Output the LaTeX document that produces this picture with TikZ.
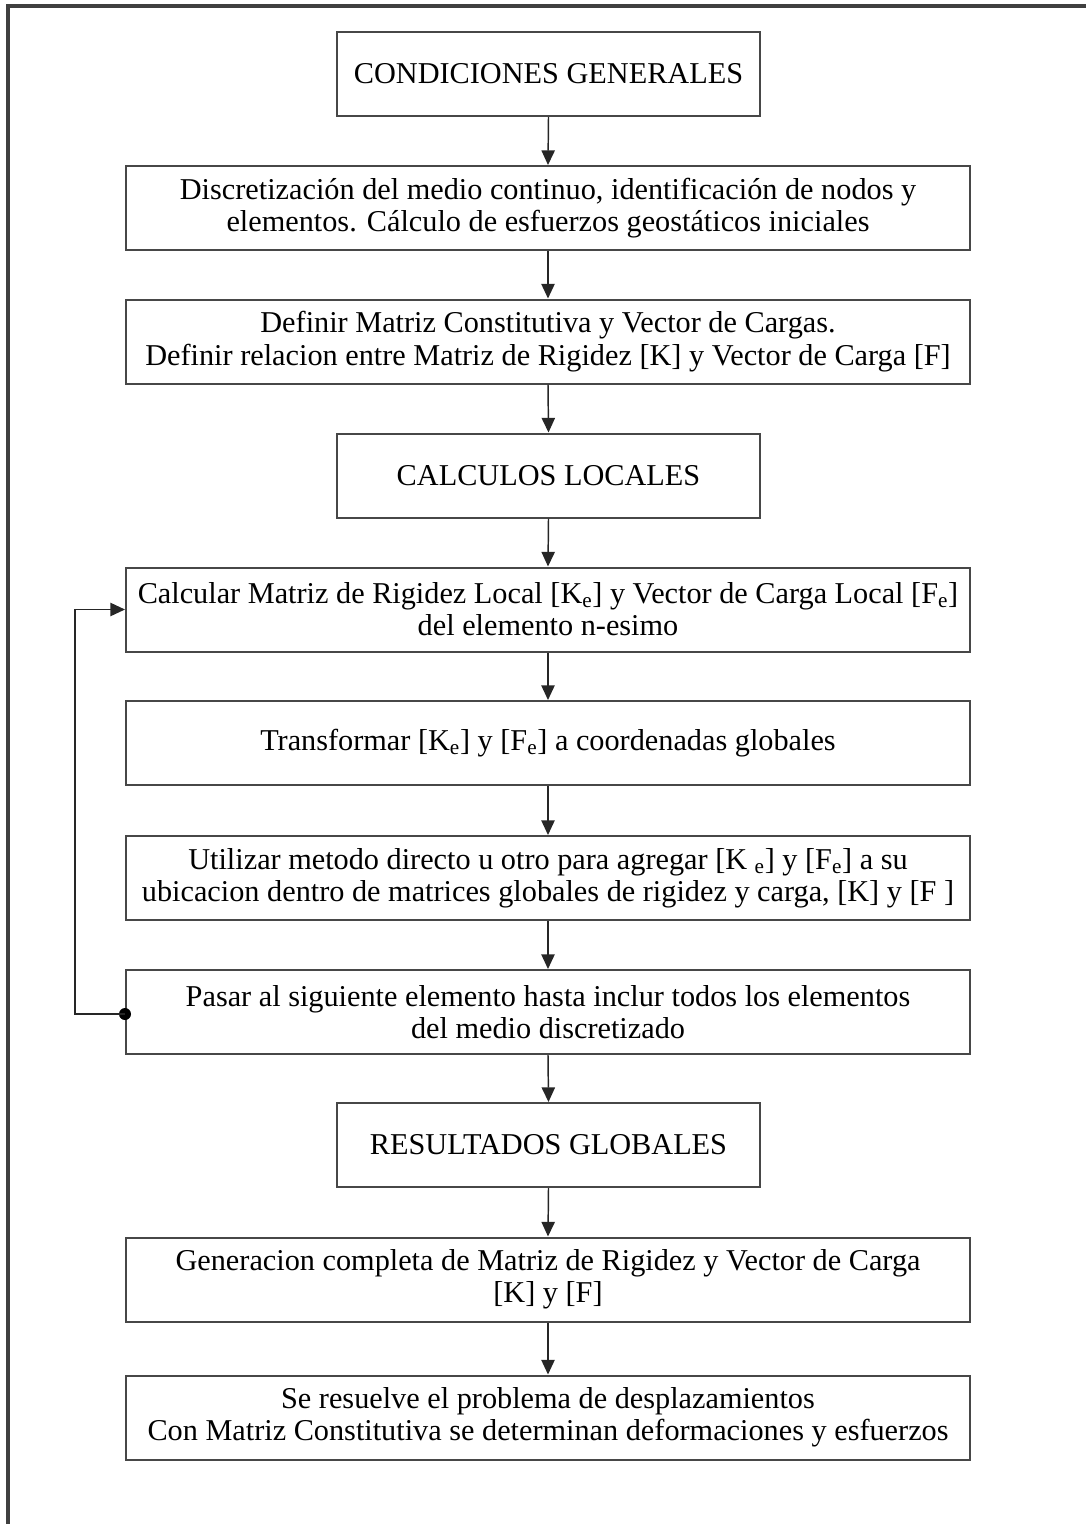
\documentclass[tikz,border=0pt]{standalone}
\usepackage{fontspec}
\setmainfont{Liberation Serif}
\usetikzlibrary{arrows.meta}
\newcommand{\sbe}{\textsubscript{e}}
\begin{document}
\begin{tikzpicture}[x=0.75pt,y=-0.75pt,
  flowbox/.style={draw=black!72, line width=1.5pt, fill=white,
    minimum height=84*0.75pt, inner sep=0pt, align=center,
    font=\fontsize{22.7}{24.2}\selectfont},
  widebox/.style={flowbox, minimum width=844*0.75pt},
  headbox/.style={flowbox, minimum width=423*0.75pt},
  flowarrow/.style={line width=1.1pt, draw=black!85,
    -{Triangle[length=11pt,width=10pt]}}]
\useasboundingbox (0,0) rectangle (1086,1524);
% open frame along the top and left side
\draw[black!75, line width=2.3pt] (8,1524) -- (8,6) -- (1086,6);

\node[headbox] (cond) at (548.5,74) {CONDICIONES GENERALES};
\node[widebox] (disc) at (548,208) {Discretización del medio continuo, identificación de nodos y\\elementos. Cálculo de esfuerzos geostáticos iniciales};
\node[widebox] (defi) at (548,341.5) {Definir Matriz Constitutiva y Vector de Cargas.\\Definir relacion entre Matriz de Rigidez [K] y Vector de Carga [F]};
\node[headbox] (loc) at (548.5,475.5) {CALCULOS LOCALES};
\node[widebox] (calc) at (548,609.5) {Calcular Matriz de Rigidez Local [K\sbe] y Vector de Carga Local [F\sbe]\\del elemento n-esimo};
\node[widebox] (trans) at (548,743) {Transformar [K\sbe] y [F\sbe] a coordenadas globales};
\node[widebox] (util) at (548,878) {Utilizar metodo directo u otro para agregar [K \sbe] y [F\sbe] a su\\ubicacion dentro de matrices globales de rigidez y carga, [K] y [F ]};
\node[widebox] (pasar) at (548,1012) {Pasar al siguiente elemento hasta inclur todos los elementos\\del medio discretizado};
\node[headbox] (res) at (548.5,1145) {RESULTADOS GLOBALES};
\node[widebox] (gen) at (548,1279.5) {Generacion completa de Matriz de Rigidez y Vector de Carga\\{}[K] y [F]};
\node[widebox] (solv) at (548,1417.5) {Se resuelve el problema de desplazamientos\\Con Matriz Constitutiva se determinan deformaciones y esfuerzos};

\foreach \a/\b in {cond/disc, disc/defi, defi/loc, loc/calc, calc/trans,
                   trans/util, util/pasar, pasar/res, res/gen, gen/solv}
  \draw[flowarrow] (\a.south) -- (\b.north);

% return loop to the next element
\coordinate (loopstart) at ([yshift=-1.5pt]pasar.west);
\coordinate (loopcorner) at (75,0);
\fill[black] (loopstart) circle (4.5pt);
\draw[flowarrow] (loopstart) -- (loopcorner |- loopstart) -- (loopcorner |- calc.west) -- (calc.west);
\end{tikzpicture}
\end{document}
